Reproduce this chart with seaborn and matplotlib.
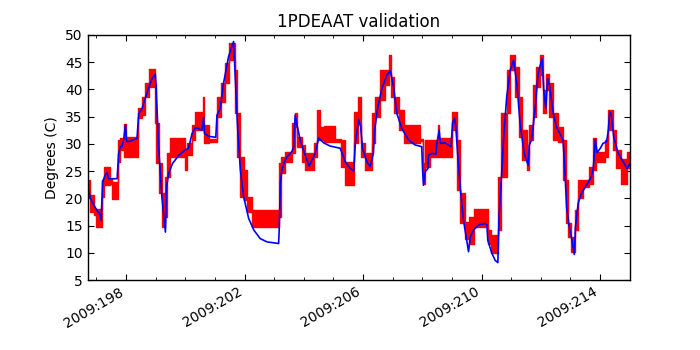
import matplotlib
matplotlib.use("Agg")
import matplotlib.pyplot as plt
import seaborn as sns
from matplotlib.ticker import FixedLocator, MultipleLocator, FuncFormatter

# day-of-year tick positions and labels
tick_days = [198, 202, 206, 210, 214]
tick_labels = ["2009:198", "2009:202", "2009:206", "2009:210", "2009:214"]

# telemetry (red): band of quantized readings, start of each block, low and high level
red_t = [196.71, 196.78, 196.91, 197.00, 197.19, 197.25, 197.47, 197.53, 197.72, 197.81,
         197.92, 198.00, 198.40, 198.54, 198.65, 198.79, 198.99, 199.02, 199.10, 199.21,
         199.33, 199.38, 199.50, 200.00, 200.06, 200.23, 200.34, 200.59, 200.64, 200.79,
         201.07, 201.22, 201.35, 201.46, 201.67, 201.74, 201.86, 201.97, 202.08, 202.25,
         203.15, 203.24, 203.37, 203.60, 203.69, 203.77, 203.94, 204.05, 204.33, 204.44,
         204.56, 204.67, 205.06, 205.26, 205.40, 205.71, 205.83, 205.94, 206.07, 206.30,
         206.41, 206.58, 206.75, 206.86, 206.95, 207.03, 207.20, 207.37, 207.93, 208.01,
         208.10, 208.27, 208.53, 208.58, 209.00, 209.17, 209.28, 209.45, 209.56, 209.73,
         210.21, 210.32, 210.57, 210.66, 210.85, 210.97, 211.13, 211.25, 211.38, 211.52,
         211.61, 211.74, 211.85, 211.97, 212.08, 212.19, 212.28, 212.42, 212.59, 212.75,
         212.84, 212.92, 213.03, 213.15, 213.26, 213.43, 213.63, 213.77, 213.86, 214.16,
         214.27, 214.42, 214.55, 214.69, 214.91, 215.01]
red_lo = [20.0, 17.5, 16.9, 14.8, 20.3, 22.4, 22.7, 19.8, 26.7, 28.9,
          27.6, 27.5, 34.7, 35.3, 38.7, 40.5, 33.8, 26.4, 20.9, 14.8,
          16.6, 24.0, 27.6, 25.2, 27.9, 30.7, 32.5, 32.5, 30.1, 30.4,
          35.0, 37.7, 41.1, 45.4, 35.6, 27.6, 20.3, 19.7, 17.5, 14.8,
          16.6, 24.6, 26.7, 28.3, 33.1, 29.5, 26.7, 25.2, 27.6, 30.7,
          30.7, 30.4, 30.4, 25.8, 22.4, 30.1, 33.8, 27.6, 25.2, 30.1,
          35.0, 38.1, 40.8, 43.0, 38.7, 35.6, 32.5, 30.1, 30.5, 22.7,
          25.8, 27.6, 27.6, 27.6, 32.5, 21.5, 15.4, 12.6, 11.7, 14.8,
          11.7, 9.9, 14.2, 24.0, 35.6, 43.6, 38.7, 31.3, 27.0, 25.2,
          30.7, 35.0, 40.5, 42.6, 35.6, 39.9, 35.0, 30.7, 30.4, 23.3,
          15.4, 12.9, 10.2, 14.2, 20.0, 22.1, 22.7, 25.2, 26.7, 27.6,
          32.5, 28.9, 25.5, 22.7, 25.5, 25.5]
red_hi = [23.3, 20.6, 18.1, 18.1, 23.3, 25.8, 23.6, 23.0, 30.7, 31.0,
          33.6, 31.3, 36.5, 38.7, 41.1, 43.7, 41.0, 33.8, 26.4, 20.9,
          24.0, 28.3, 31.0, 28.9, 30.1, 33.5, 35.9, 38.7, 33.5, 30.9,
          38.7, 41.1, 44.8, 48.5, 43.6, 35.6, 27.6, 25.2, 20.3, 17.8,
          26.4, 27.6, 28.6, 33.8, 35.6, 31.3, 29.8, 28.3, 30.1, 36.2,
          33.1, 33.3, 30.9, 30.7, 26.7, 35.9, 38.7, 30.1, 28.3, 35.6,
          38.7, 43.6, 43.6, 46.3, 42.3, 38.7, 36.2, 33.5, 30.9, 26.4,
          30.7, 30.7, 33.5, 31.0, 35.9, 30.7, 20.9, 15.7, 16.6, 18.1,
          14.2, 13.2, 24.0, 35.6, 43.6, 46.3, 44.2, 38.7, 32.5, 27.6,
          33.5, 40.8, 44.2, 46.3, 39.9, 42.9, 41.1, 35.6, 33.1, 30.7,
          23.3, 15.4, 12.9, 17.8, 23.3, 23.3, 25.8, 31.0, 28.6, 30.7,
          36.2, 32.5, 28.9, 27.3, 28.6, 28.6]

# thermal model (blue)
model_t = [196.71, 196.80, 196.91, 197.02, 197.10, 197.16, 197.21, 197.30, 197.36, 197.41,
           197.70, 197.75, 197.81, 197.86, 197.92, 197.98, 198.02, 198.09, 198.37, 198.43,
           198.54, 198.65, 198.76, 198.88, 198.99, 199.01, 199.10, 199.21, 199.33, 199.37,
           199.44, 199.57, 199.78, 200.00, 200.11, 200.23, 200.34, 200.45, 200.56, 200.62,
           200.65, 200.79, 201.03, 201.07, 201.18, 201.29, 201.46, 201.63, 201.69, 201.77,
           201.86, 201.97, 202.14, 202.31, 202.53, 202.76, 203.15, 203.17, 203.21, 203.26,
           203.35, 203.43, 203.60, 203.66, 203.71, 203.77, 203.88, 204.05, 204.18, 204.27,
           204.39, 204.50, 204.67, 204.89, 205.23, 205.29, 205.40, 205.57, 205.68, 205.74,
           205.85, 205.92, 205.98, 206.13, 206.24, 206.35, 206.39, 206.50, 206.64, 206.80,
           206.92, 207.03, 207.14, 207.31, 207.54, 207.76, 207.98, 208.01, 208.04, 208.10,
           208.19, 208.21, 208.32, 208.46, 208.49, 208.57, 208.61, 208.77, 208.88, 208.97,
           209.02, 209.09, 209.13, 209.20, 209.28, 209.39, 209.50, 209.56, 209.62, 209.73,
           209.90, 210.12, 210.18, 210.21, 210.35, 210.46, 210.55, 210.59, 210.66, 210.74,
           210.85, 210.97, 211.08, 211.19, 211.30, 211.42, 211.46, 211.57, 211.61, 211.69,
           211.80, 211.91, 212.04, 212.10, 212.17, 212.23, 212.30, 212.42, 212.53, 212.75,
           212.81, 212.87, 212.96, 213.03, 213.13, 213.17, 213.26, 213.37, 213.54, 213.71,
           213.77, 213.84, 213.90, 214.01, 214.10, 214.22, 214.27, 214.33, 214.38, 214.46,
           214.61, 214.78, 214.91, 215.01]
model_v = [22.0, 20.0, 18.8, 17.8, 17.2, 16.0, 23.0, 24.3, 24.7, 23.6,
           23.6, 28.2, 29.5, 29.5, 30.7, 33.5, 30.5, 30.4, 31.0, 35.6,
           36.5, 38.4, 40.2, 42.0, 42.8, 41.1, 29.5, 20.3, 13.8, 22.1,
           24.6, 26.4, 27.9, 28.9, 29.2, 31.9, 33.0, 32.8, 32.5, 34.9,
           31.9, 31.4, 31.2, 35.3, 36.5, 41.1, 46.0, 48.8, 41.7, 32.5,
           25.2, 20.3, 16.3, 14.2, 12.6, 12.0, 11.7, 14.2, 22.7, 25.2,
           26.7, 27.6, 28.6, 29.5, 35.3, 33.5, 30.7, 27.9, 25.9, 27.0,
           28.3, 31.1, 30.2, 29.6, 29.2, 28.3, 26.7, 25.5, 25.0, 30.1,
           34.5, 33.1, 29.2, 26.7, 25.8, 28.3, 32.5, 36.8, 40.2, 42.6,
           43.4, 40.5, 35.6, 32.8, 30.7, 29.8, 29.5, 25.2, 22.4, 24.9,
           25.5, 27.9, 28.3, 28.1, 30.1, 32.5, 30.1, 30.2, 29.8, 29.5,
           33.8, 34.7, 33.1, 27.6, 22.1, 16.0, 12.3, 10.2, 12.9, 14.2,
           15.1, 15.4, 15.1, 12.3, 9.9, 8.6, 8.2, 16.6, 22.7, 30.7,
           38.7, 43.6, 45.4, 41.1, 33.8, 29.0, 27.9, 26.1, 29.8, 30.7,
           36.2, 42.9, 45.7, 39.9, 36.5, 42.0, 40.5, 35.6, 33.1, 30.7,
           25.2, 18.4, 14.8, 12.9, 9.7, 14.8, 19.1, 20.9, 22.4, 24.0,
           25.5, 30.8, 28.4, 29.2, 30.1, 30.4, 32.2, 35.9, 35.3, 31.3,
           28.3, 26.7, 25.5, 26.4]

sns.set_style("ticks", {
    "axes.edgecolor": "black",
    "axes.labelcolor": "black",
    "text.color": "black",
    "xtick.color": "black",
    "ytick.color": "black",
    "xtick.direction": "in",
    "ytick.direction": "in",
})
plt.rcParams["font.family"] = ["DejaVu Sans"]
plt.rcParams["font.size"] = 10

fig, ax = plt.subplots(figsize=(7, 3.5), dpi=100)
fig.subplots_adjust(left=0.125, right=0.9, top=0.9, bottom=0.2)

ax.fill_between(red_t, red_lo, red_hi, step="post", color="r", lw=0)
sns.lineplot(x=red_t, y=red_lo, drawstyle="steps-post", color="r", lw=1, ax=ax)
sns.lineplot(x=red_t, y=red_hi, drawstyle="steps-post", color="r", lw=1, ax=ax)
sns.lineplot(x=model_t, y=model_v, color="b", lw=1.2, ax=ax)

ax.set_xlim(196.70, 215.01)
ax.set_ylim(5, 50)
ax.xaxis.set_major_locator(FixedLocator(tick_days))
ax.xaxis.set_major_formatter(FuncFormatter(lambda v, p: tick_labels[tick_days.index(round(v))]))
ax.xaxis.set_minor_locator(MultipleLocator(1))
ax.yaxis.set_major_locator(MultipleLocator(5))
ax.tick_params(which="both", direction="in", top=True, right=True, labelsize=10)
ax.tick_params(which="major", length=4)
ax.tick_params(which="minor", length=2)
for s in ax.spines.values():
    s.set_linewidth(1)
plt.setp(ax.get_xticklabels(), rotation=30, ha="right")

ax.set_title("1PDEAAT validation", fontsize=12)
ax.set_ylabel("Degrees (C)", fontsize=10)

fig.savefig("out.png", dpi=100)
